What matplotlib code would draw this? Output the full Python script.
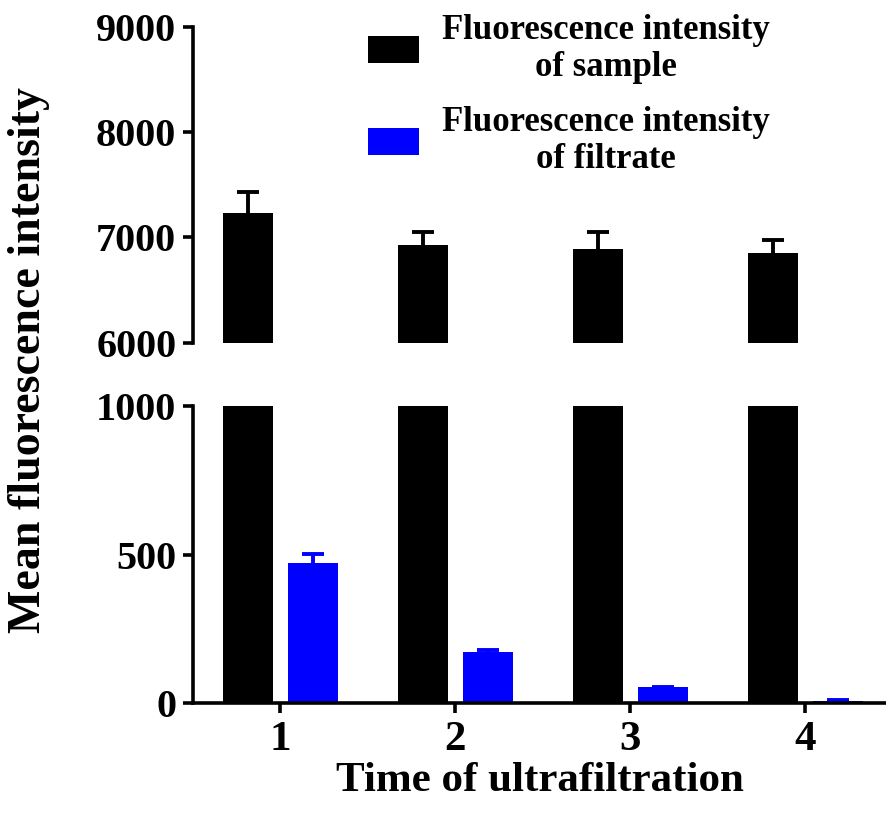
import numpy as np
import matplotlib
matplotlib.use("Agg")
import matplotlib.pyplot as plt

# data
times = [1, 2, 3, 4]
sample_mean = [7232, 6930, 6886, 6848]
sample_err = [197, 118, 162, 130]
filtrate_mean = [472, 174, 54, 9]
filtrate_err = [30, 7, 2, 1]

top_ticks = [6000, 7000, 8000, 9000]
bottom_ticks = [0, 500, 1000]
labels = ["Fluorescence intensity\nof sample", "Fluorescence intensity\nof filtrate"]

plt.rcParams["font.family"] = ["Liberation Serif", "DejaVu Serif"]
plt.rcParams["font.weight"] = "bold"

fig = plt.figure(figsize=(8.87, 8.13), dpi=100)
left, width = 0.2176, 0.7824
ax_top = fig.add_axes([left, 0.5785, width, 0.3883])
ax_bot = fig.add_axes([left, 0.1349, width, 0.3657])

x = np.array(times, dtype=float)
bw = 0.286
off_black, off_blue = -0.183, 0.19
lw = 2.6


def upper_errorbar(ax, xs, ys, err, color):
    # GraphPad style: only the upper half of the error bar
    _, caps, _ = ax.errorbar(xs, ys, yerr=[np.zeros(len(ys)), err],
                             fmt="none", ecolor=color, elinewidth=2.8,
                             capsize=8, capthick=2.8, zorder=1)
    caps[0].set_visible(False)


for ax in (ax_top, ax_bot):
    ax.bar(x + off_black, sample_mean, bw, color="black", zorder=2,
           label=labels[0])
    upper_errorbar(ax, x + off_black, sample_mean, sample_err, "black")
    ax.bar(x + off_blue, filtrate_mean, bw, color="#0000ff", zorder=2,
           label=labels[1])
    upper_errorbar(ax, x + off_blue, filtrate_mean, filtrate_err, "#0000ff")
    ax.set_xlim(0.503, 4.469)
    for s in ("top", "right"):
        ax.spines[s].set_visible(False)
    ax.spines["left"].set_linewidth(lw)
    ax.spines["bottom"].set_linewidth(lw)
    ax.tick_params(axis="y", direction="out", length=7, width=lw,
                   labelsize=29, pad=5)

# top panel: 6000-9000
ax_top.set_ylim(6000, 9000)
ax_top.set_yticks(top_ticks)
ax_top.spines["bottom"].set_visible(False)
ax_top.set_xticks([])
ax_top.set_yticks([6000], minor=True)
ax_top.tick_params(axis="y", which="minor", direction="in", length=7,
                   width=lw)

# bottom panel: 0-1000
ax_bot.set_ylim(0, 1000)
ax_bot.set_yticks(bottom_ticks)
ax_bot.set_yticks([1000], minor=True)
ax_bot.tick_params(axis="y", which="minor", direction="in", length=7,
                   width=lw)
ax_bot.set_xticks(x)
ax_bot.set_xticklabels([str(t) for t in times])
ax_bot.tick_params(axis="x", direction="out", length=7, width=lw,
                   labelsize=31, pad=6)
ax_bot.set_xlabel("Time of ultrafiltration", fontsize=31, fontweight="bold",
                  labelpad=2)

fig.text(0.033, 0.557, "Mean fluorescence intensity", rotation=90,
         fontsize=33, fontweight="bold", ha="center", va="center")

handles, hl = ax_top.get_legend_handles_labels()
leg = fig.legend(handles, hl, loc="upper left",
                 bbox_to_anchor=(368 / 887, 1 - 14 / 813),
                 bbox_transform=fig.transFigure, frameon=False,
                 fontsize=25, handlelength=1.47, handleheight=0.8,
                 handletextpad=0.65, labelspacing=0.65, borderpad=0,
                 borderaxespad=0)
for t in leg.get_texts():
    t.set_multialignment("center")
    t.set_linespacing(1.15)

fig.savefig("out.png", dpi=100)
